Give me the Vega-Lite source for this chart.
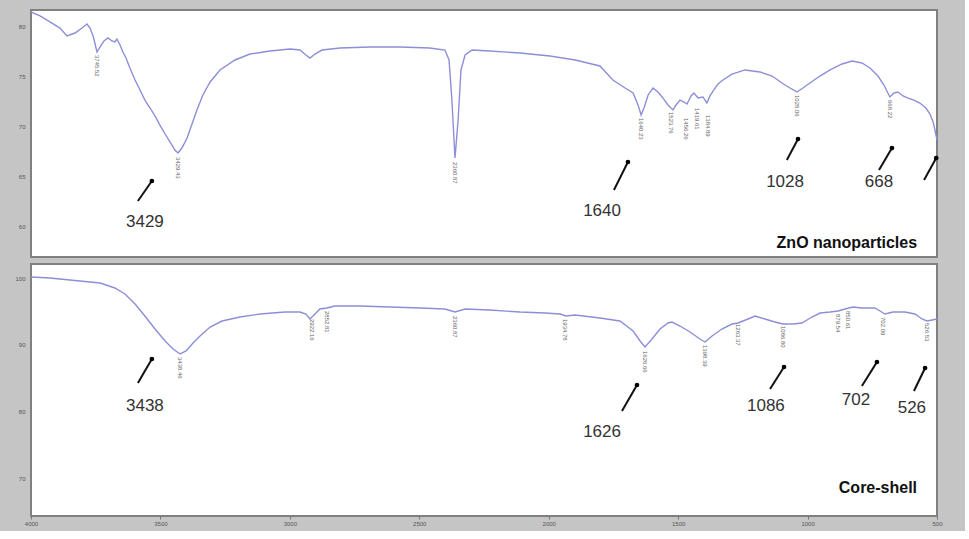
{
  "$schema": "https://vega.github.io/schema/vega-lite/v6.json",
  "background": "#c5c5c5",
  "padding": {"left": 10, "top": 8, "right": 21, "bottom": 2},
  "spacing": 5,
  "config": {
    "view": {"fill": "#ffffff", "stroke": "#808080", "strokeWidth": 2},
    "font": "Liberation Sans"
  },
  "datasets": {
    "top": [
      {"w":4000,"t":81.5},{"w":3965,"t":81.1},{"w":3927,"t":80.5},{"w":3888,"t":79.89},{"w":3861,"t":79.09},{"w":3830,"t":79.39},{"w":3803,"t":79.89},{"w":3784,"t":80.29},{"w":3772,"t":79.89},{"w":3760,"t":79.09},{"w":3745,"t":77.48},{"w":3733,"t":77.99},{"w":3718,"t":78.59},{"w":3703,"t":78.89},{"w":3687,"t":78.59},{"w":3676,"t":78.49},{"w":3668,"t":78.79},{"w":3656,"t":78.19},{"w":3645,"t":77.48},{"w":3633,"t":76.88},{"w":3618,"t":75.88},{"w":3598,"t":74.67},{"w":3579,"t":73.67},{"w":3560,"t":72.66},{"w":3540,"t":71.86},{"w":3521,"t":71.06},{"w":3502,"t":70.15},{"w":3482,"t":69.25},{"w":3463,"t":68.45},{"w":3444,"t":67.64},{"w":3432,"t":67.34},{"w":3417,"t":67.84},{"w":3397,"t":68.85},{"w":3378,"t":70.25},{"w":3359,"t":71.66},{"w":3336,"t":73.17},{"w":3308,"t":74.47},{"w":3270,"t":75.68},{"w":3212,"t":76.68},{"w":3154,"t":77.28},{"w":3077,"t":77.58},{"w":2999,"t":77.78},{"w":2961,"t":77.68},{"w":2938,"t":77.18},{"w":2922,"t":76.88},{"w":2903,"t":77.28},{"w":2876,"t":77.68},{"w":2806,"t":77.88},{"w":2690,"t":77.99},{"w":2574,"t":77.99},{"w":2459,"t":77.88},{"w":2401,"t":77.68},{"w":2385,"t":76.68},{"w":2374,"t":72.66},{"w":2362,"t":66.84},{"w":2350,"t":70.66},{"w":2339,"t":75.68},{"w":2323,"t":77.18},{"w":2296,"t":77.68},{"w":2227,"t":77.58},{"w":2111,"t":77.38},{"w":1995,"t":77.08},{"w":1898,"t":76.68},{"w":1802,"t":76.08},{"w":1752,"t":74.67},{"w":1705,"t":73.87},{"w":1674,"t":73.37},{"w":1655,"t":72.16},{"w":1643,"t":71.16},{"w":1632,"t":71.86},{"w":1616,"t":73.17},{"w":1597,"t":73.87},{"w":1578,"t":73.47},{"w":1562,"t":72.97},{"w":1539,"t":72.16},{"w":1520,"t":71.66},{"w":1508,"t":72.16},{"w":1493,"t":72.66},{"w":1477,"t":72.46},{"w":1466,"t":72.26},{"w":1450,"t":73.07},{"w":1439,"t":73.37},{"w":1423,"t":72.86},{"w":1404,"t":72.97},{"w":1389,"t":72.36},{"w":1377,"t":73.07},{"w":1362,"t":73.67},{"w":1346,"t":74.27},{"w":1327,"t":74.67},{"w":1292,"t":75.27},{"w":1242,"t":75.68},{"w":1184,"t":75.48},{"w":1137,"t":75.07},{"w":1099,"t":74.37},{"w":1068,"t":73.87},{"w":1041,"t":73.47},{"w":1018,"t":73.87},{"w":991,"t":74.37},{"w":952,"t":75.07},{"w":913,"t":75.68},{"w":867,"t":76.28},{"w":828,"t":76.58},{"w":790,"t":76.38},{"w":759,"t":75.88},{"w":728,"t":75.07},{"w":705,"t":74.17},{"w":682,"t":72.97},{"w":666,"t":73.37},{"w":651,"t":73.47},{"w":631,"t":73.07},{"w":612,"t":72.86},{"w":589,"t":72.66},{"w":566,"t":72.36},{"w":543,"t":71.86},{"w":527,"t":71.26},{"w":515,"t":70.46},{"w":508,"t":69.65},{"w":500,"t":68.65}
    ],
    "bottom": [
      {"w":4000,"t":100.15},{"w":3927,"t":100.0},{"w":3811,"t":99.55},{"w":3733,"t":99.25},{"w":3676,"t":98.5},{"w":3637,"t":97.6},{"w":3598,"t":96.1},{"w":3560,"t":94.3},{"w":3521,"t":92.35},{"w":3482,"t":90.55},{"w":3451,"t":89.35},{"w":3424,"t":88.6},{"w":3401,"t":89.05},{"w":3374,"t":90.25},{"w":3347,"t":91.3},{"w":3308,"t":92.65},{"w":3262,"t":93.55},{"w":3193,"t":94.15},{"w":3115,"t":94.6},{"w":3019,"t":94.9},{"w":2961,"t":94.9},{"w":2938,"t":94.6},{"w":2922,"t":93.85},{"w":2907,"t":94.45},{"w":2884,"t":95.35},{"w":2857,"t":95.5},{"w":2826,"t":95.8},{"w":2729,"t":95.8},{"w":2613,"t":95.65},{"w":2497,"t":95.5},{"w":2401,"t":95.35},{"w":2362,"t":94.9},{"w":2323,"t":95.35},{"w":2227,"t":95.2},{"w":2111,"t":94.9},{"w":2014,"t":94.75},{"w":1956,"t":94.6},{"w":1933,"t":94.3},{"w":1898,"t":94.45},{"w":1802,"t":94.0},{"w":1725,"t":93.55},{"w":1674,"t":92.05},{"w":1647,"t":90.55},{"w":1628,"t":89.65},{"w":1601,"t":90.85},{"w":1570,"t":92.35},{"w":1539,"t":93.25},{"w":1524,"t":93.4},{"w":1493,"t":92.8},{"w":1454,"t":91.9},{"w":1416,"t":90.85},{"w":1396,"t":90.4},{"w":1369,"t":91.3},{"w":1331,"t":92.35},{"w":1292,"t":93.1},{"w":1269,"t":93.25},{"w":1230,"t":93.85},{"w":1203,"t":94.3},{"w":1165,"t":93.85},{"w":1126,"t":93.4},{"w":1095,"t":93.1},{"w":1056,"t":93.1},{"w":1022,"t":93.25},{"w":983,"t":94.15},{"w":952,"t":94.75},{"w":913,"t":94.9},{"w":882,"t":95.05},{"w":855,"t":95.35},{"w":825,"t":95.65},{"w":790,"t":95.5},{"w":740,"t":95.5},{"w":720,"t":95.05},{"w":701,"t":94.6},{"w":670,"t":94.9},{"w":624,"t":94.9},{"w":585,"t":94.6},{"w":558,"t":93.85},{"w":539,"t":93.55},{"w":519,"t":93.7},{"w":500,"t":93.85}
    ],
    "topPeaks": [
      {"w":3745,"t":77.18,"label":"3745.52"},{"w":3432,"t":66.94,"label":"3429.43"},{"w":2362,"t":66.44,"label":"2360.87"},{"w":1643,"t":70.86,"label":"1640.23"},{"w":1528,"t":71.46,"label":"1523.76"},{"w":1470,"t":70.86,"label":"1456.26"},{"w":1427,"t":71.86,"label":"1419.61"},{"w":1385,"t":71.16,"label":"1384.89"},{"w":1041,"t":73.17,"label":"1028.06"},{"w":682,"t":72.66,"label":"668.22"}
    ],
    "bottomPeaks": [
      {"w":3424,"t":88.15,"label":"3438.46"},{"w":2915,"t":93.85,"label":"2922.16"},{"w":2857,"t":95.05,"label":"2852.81"},{"w":2362,"t":94.3,"label":"2360.87"},{"w":1937,"t":93.85,"label":"1934.78"},{"w":1628,"t":89.05,"label":"1626.66"},{"w":1396,"t":89.95,"label":"1398.39"},{"w":1269,"t":93.1,"label":"1263.37"},{"w":1095,"t":92.8,"label":"1086.80"},{"w":882,"t":94.6,"label":"879.54"},{"w":844,"t":95.05,"label":"850.61"},{"w":709,"t":94.15,"label":"702.09"},{"w":539,"t":93.25,"label":"526.53"}
    ],
    "topArrows": [
      {"w1":3587,"t1":62.52,"w2":3533,"t2":64.53},{"w1":1748,"t1":63.63,"w2":1694,"t2":66.44},{"w1":1080,"t1":66.64,"w2":1037,"t2":68.75},{"w1":724,"t1":65.64,"w2":674,"t2":67.84},{"w1":550,"t1":64.63,"w2":503,"t2":66.84}
    ],
    "bottomArrows": [
      {"w1":3587,"t1":84.25,"w2":3533,"t2":87.85},{"w1":1717,"t1":80.05,"w2":1659,"t2":83.95},{"w1":1145,"t1":83.35,"w2":1091,"t2":86.65},{"w1":790,"t1":83.8,"w2":732,"t2":87.4},{"w1":589,"t1":83.05,"w2":546,"t2":86.5}
    ],
    "topNotes": [
      {"w":3560,"t":60.41,"label":"3429"},{"w":1794,"t":61.52,"label":"1640"},{"w":1087,"t":64.43,"label":"1028"},{"w":724,"t":64.43,"label":"668"}
    ],
    "bottomNotes": [
      {"w":3560,"t":80.85,"label":"3438"},{"w":1794,"t":76.95,"label":"1626"},{"w":1161,"t":80.85,"label":"1086"},{"w":813,"t":81.75,"label":"702"},{"w":597,"t":80.55,"label":"526"}
    ],
    "topTitle": [{"w":577,"t":58.31,"label":"ZnO nanoparticles"}],
    "bottomTitle": [{"w":577,"t":68.5,"label":"Core-shell"}]
  },
  "vconcat": [
    {
      "width": 906,
      "height": 247,
      "layer": [
        {
          "data": {"name": "top"},
          "mark": {"type": "line", "color": "#8c8fd8", "strokeWidth": 1.4},
          "encoding": {
            "x": {"field": "w", "type": "quantitative", "title": null, "scale": {"domain": [4000, 500], "nice": false, "zero": false}, "axis": null},
            "y": {"field": "t", "type": "quantitative", "title": null, "scale": {"domain": [56.9, 81.7], "nice": false, "zero": false},
                  "axis": {"values": [80, 75, 70, 65, 60], "ticks": false, "domain": false, "grid": false, "labelFontSize": 6, "labelColor": "#555555", "labelPadding": 6, "minExtent": 20, "maxExtent": 20}}
          }
        },
        {
          "data": {"name": "topPeaks"},
          "mark": {"type": "text", "angle": 90, "align": "left", "baseline": "middle", "fontSize": 6, "color": "#666666"},
          "encoding": {
            "x": {"field": "w", "type": "quantitative", "title": null, "axis": null},
            "y": {"field": "t", "type": "quantitative", "title": null},
            "text": {"field": "label"}
          }
        },
        {
          "data": {"name": "topArrows"},
          "mark": {"type": "rule", "color": "#111111", "strokeWidth": 2},
          "encoding": {
            "x": {"field": "w1", "type": "quantitative", "title": null, "axis": null},
            "y": {"field": "t1", "type": "quantitative", "title": null},
            "x2": {"field": "w2"},
            "y2": {"field": "t2"}
          }
        },
        {
          "data": {"name": "topArrows"},
          "mark": {"type": "point", "filled": true, "color": "#000000", "size": 22, "opacity": 1},
          "encoding": {
            "x": {"field": "w2", "type": "quantitative", "title": null, "axis": null},
            "y": {"field": "t2", "type": "quantitative", "title": null}
          }
        },
        {
          "data": {"name": "topNotes"},
          "mark": {"type": "text", "fontSize": 17, "color": "#333333", "align": "center", "baseline": "middle"},
          "encoding": {
            "x": {"field": "w", "type": "quantitative", "title": null, "axis": null},
            "y": {"field": "t", "type": "quantitative", "title": null},
            "text": {"field": "label"}
          }
        },
        {
          "data": {"name": "topTitle"},
          "mark": {"type": "text", "fontSize": 16, "fontWeight": "bold", "color": "#111111", "align": "right", "baseline": "middle"},
          "encoding": {
            "x": {"field": "w", "type": "quantitative", "title": null, "axis": null},
            "y": {"field": "t", "type": "quantitative", "title": null},
            "text": {"field": "label"}
          }
        }
      ]
    },
    {
      "width": 906,
      "height": 252,
      "layer": [
        {
          "data": {"name": "bottom"},
          "mark": {"type": "line", "color": "#8c8fd8", "strokeWidth": 1.4},
          "encoding": {
            "x": {"field": "w", "type": "quantitative", "title": null, "scale": {"domain": [4000, 500], "nice": false, "zero": false},
                  "axis": {"values": [4000, 3500, 3000, 2500, 2000, 1500, 1000, 500], "format": "d", "tickSize": 3, "tickColor": "#777777", "domain": false, "grid": false, "labelFontSize": 6, "labelColor": "#555555", "labelPadding": 1, "labelFlush": false, "minExtent": 12, "maxExtent": 12}},
            "y": {"field": "t", "type": "quantitative", "title": null, "scale": {"domain": [64.3, 102.1], "nice": false, "zero": false},
                  "axis": {"values": [100, 90, 80, 70], "ticks": false, "domain": false, "grid": false, "labelFontSize": 6, "labelColor": "#555555", "labelPadding": 6, "minExtent": 20, "maxExtent": 20}}
          }
        },
        {
          "data": {"name": "bottomPeaks"},
          "mark": {"type": "text", "angle": 90, "align": "left", "baseline": "middle", "fontSize": 6, "color": "#666666"},
          "encoding": {
            "x": {"field": "w", "type": "quantitative", "title": null},
            "y": {"field": "t", "type": "quantitative", "title": null},
            "text": {"field": "label"}
          }
        },
        {
          "data": {"name": "bottomArrows"},
          "mark": {"type": "rule", "color": "#111111", "strokeWidth": 2},
          "encoding": {
            "x": {"field": "w1", "type": "quantitative", "title": null},
            "y": {"field": "t1", "type": "quantitative", "title": null},
            "x2": {"field": "w2"},
            "y2": {"field": "t2"}
          }
        },
        {
          "data": {"name": "bottomArrows"},
          "mark": {"type": "point", "filled": true, "color": "#000000", "size": 22, "opacity": 1},
          "encoding": {
            "x": {"field": "w2", "type": "quantitative", "title": null},
            "y": {"field": "t2", "type": "quantitative", "title": null}
          }
        },
        {
          "data": {"name": "bottomNotes"},
          "mark": {"type": "text", "fontSize": 17, "color": "#333333", "align": "center", "baseline": "middle"},
          "encoding": {
            "x": {"field": "w", "type": "quantitative", "title": null},
            "y": {"field": "t", "type": "quantitative", "title": null},
            "text": {"field": "label"}
          }
        },
        {
          "data": {"name": "bottomTitle"},
          "mark": {"type": "text", "fontSize": 16, "fontWeight": "bold", "color": "#111111", "align": "right", "baseline": "middle"},
          "encoding": {
            "x": {"field": "w", "type": "quantitative", "title": null},
            "y": {"field": "t", "type": "quantitative", "title": null},
            "text": {"field": "label"}
          }
        }
      ]
    }
  ]
}
